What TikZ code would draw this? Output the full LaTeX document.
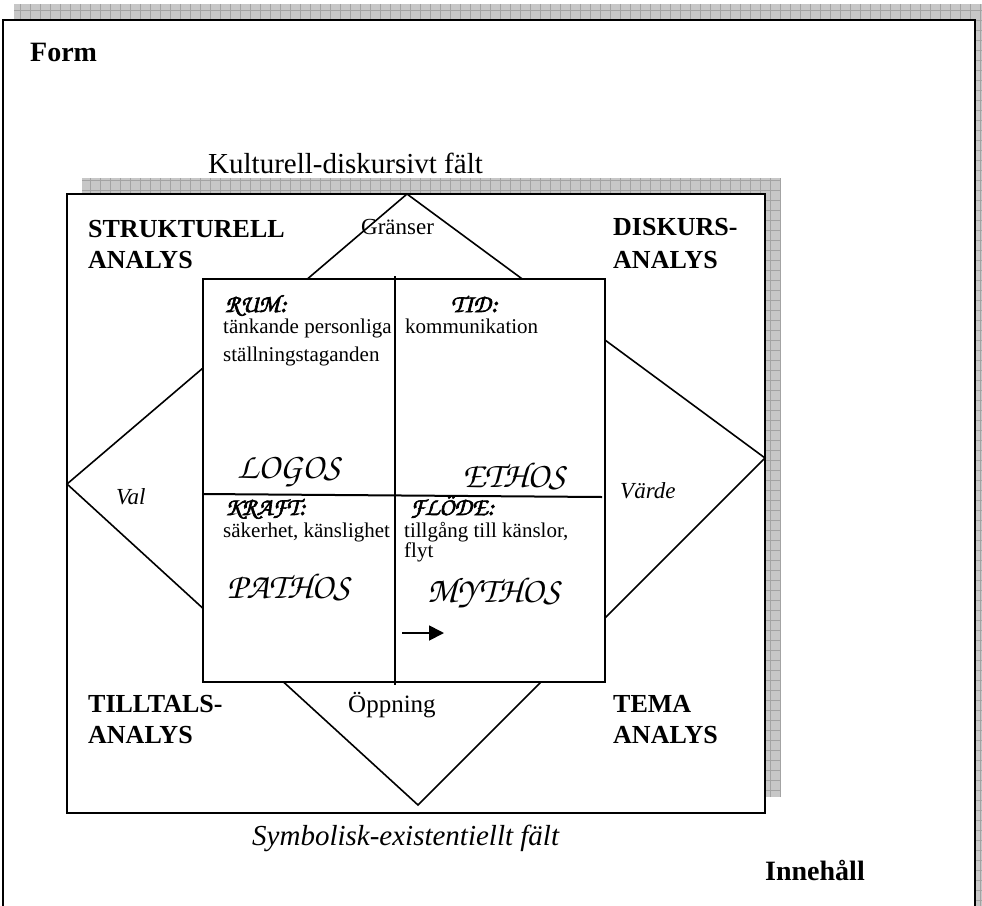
\documentclass[tikz,border=0pt]{standalone}
\usepackage{fontspec}
\setmainfont{Liberation Serif}
\newfontfamily\chorus{texgyrechorus-mediumitalic.otf}
\newfontfamily\chorusb[FakeBold=2.5]{texgyrechorus-mediumitalic.otf}
\usetikzlibrary{arrows.meta}

\newcommand\fsz[1]{\fontsize{#1}{#1}\selectfont}

\tikzset{
  lbl/.style={inner sep=0pt, anchor=base west},
  corner/.style={lbl, font=\fsz{26}\bfseries},
  title/.style={lbl, font=\fsz{28}\bfseries},
  field/.style={lbl, font=\fsz{29}},
  fielditalic/.style={lbl, font=\fsz{29}\itshape},
  edge/.style={lbl, font=\fsz{23}},
  edgeitalic/.style={lbl, font=\fsz{23}\itshape},
  quadhead/.style={lbl, text depth=0pt, font=\fsz{25}\chorusb},
  quadtext/.style={lbl, font=\fsz{21}},
  appeal/.style={lbl, font=\fsz{36}\chorus},
  shadowfill/.style={fill=black!22},
  shadowgrid/.style={draw=black!36, line width=0.5pt},
  frame/.style={draw=black, line width=2pt, fill=white},
  thin/.style={draw=black, line width=1.6pt},
}

\begin{document}
\begin{tikzpicture}[x=1pt, y=-1pt]
\useasboundingbox (0,0) rectangle (982,905);
\begin{scope}
\clip (0,0) rectangle (982,905);

% page frame with its hatched shadow
\fill[shadowfill] (14,4) rectangle (995,925);
\begin{scope}
  \clip (14,4) rectangle (995,925);
  \draw[shadowgrid, step=10pt] (14,4) grid (995,925);
\end{scope}
\draw[frame] (3,20) rectangle (975,930);

% field box with its hatched shadow
\fill[shadowfill] (82,178) rectangle (781,797);
\begin{scope}
  \clip (82,178) rectangle (781,797);
  \draw[shadowgrid, step=10pt] (82,178) grid (781,797);
\end{scope}
\draw[frame] (67,194) rectangle (765,813);

% the four poles of the rhombus
\coordinate (top) at (407,194);
\coordinate (right) at (765,458);
\coordinate (bottom) at (418,805);
\coordinate (left) at (67,484);
\draw[thin, line join=miter] (top) -- (right) -- (bottom) -- (left) -- cycle;

% central square split into four quadrants
\coordinate (sqnw) at (203,279);
\coordinate (sqse) at (605,682);
\draw[frame] (sqnw) rectangle (sqse);
\coordinate (vtop) at (395,276);
\coordinate (vbot) at (395,685);
\coordinate (hleft) at (203,494);
\coordinate (hright) at (602,497);
\draw[thin, line width=2pt] (vtop) -- (vbot);
\draw[thin, line width=2pt] (hleft) -- (hright);

% flow arrow
\coordinate (flowA) at (402,633);
\coordinate (flowB) at (444,633);
\draw[line width=1.8pt, -{Triangle[length=15pt, width=15pt]}] (flowA) -- (flowB);

% headings
\node[title] (form) at (30,61) {Form};
\node[title] (content) at (765,880) {Innehåll};
\node[field] (cultural) at (208,173) {Kulturell-diskursivt fält};
\node[fielditalic] (symbolic) at (252,845) {Symbolisk-existentiellt fält};

% analyses in the corners
\node[corner] (strA) at (88,237) {STRUKTURELL};
\node[corner] (strB) at (88,268) {ANALYS};
\node[corner] (disA) at (613,235) {DISKURS-};
\node[corner] (disB) at (613,268) {ANALYS};
\node[corner] (tilA) at (88,712) {TILLTALS-};
\node[corner] (tilB) at (88,743) {ANALYS};
\node[corner] (temA) at (613,712) {TEMA};
\node[corner] (temB) at (613,743) {ANALYS};

% rhombus labels
\node[edge] (limits) at (361,234) {Gränser};
\node[lbl, font=\fsz{25}] (opening) at (348,712) {Öppning};
\node[edgeitalic] (choice) at (116,504) {Val};
\node[edgeitalic] (value) at (620,498) {Värde};

% quadrants
\node[quadhead] (rum) at (225,312) {RUM:};
\node[quadtext] (rumA) at (223,333) {tänkande personliga};
\node[quadtext] (rumB) at (223,361) {ställningstaganden};
\node[quadhead] (tid) at (451,312) {TID:};
\node[quadtext] (tidA) at (405,333) {kommunikation};
\node[quadhead] (kraft) at (225,515) {KRAFT:};
\node[quadtext] (kraftA) at (223,537) {säkerhet, känslighet};
\node[quadhead] (flode) at (410,515) {FLÖDE:};
\node[quadtext] (flodeA) at (404,537) {tillgång till känslor,};
\node[quadtext] (flodeB) at (404,557) {flyt};

\node[appeal] (logos) at (237,478) {LOGOS};
\node[appeal] (ethos) at (462,487) {ETHOS};
\node[appeal] (pathos) at (227,598) {PATHOS};
\node[appeal] (mythos) at (427,602) {MYTHOS};
\end{scope}
\end{tikzpicture}
\end{document}
